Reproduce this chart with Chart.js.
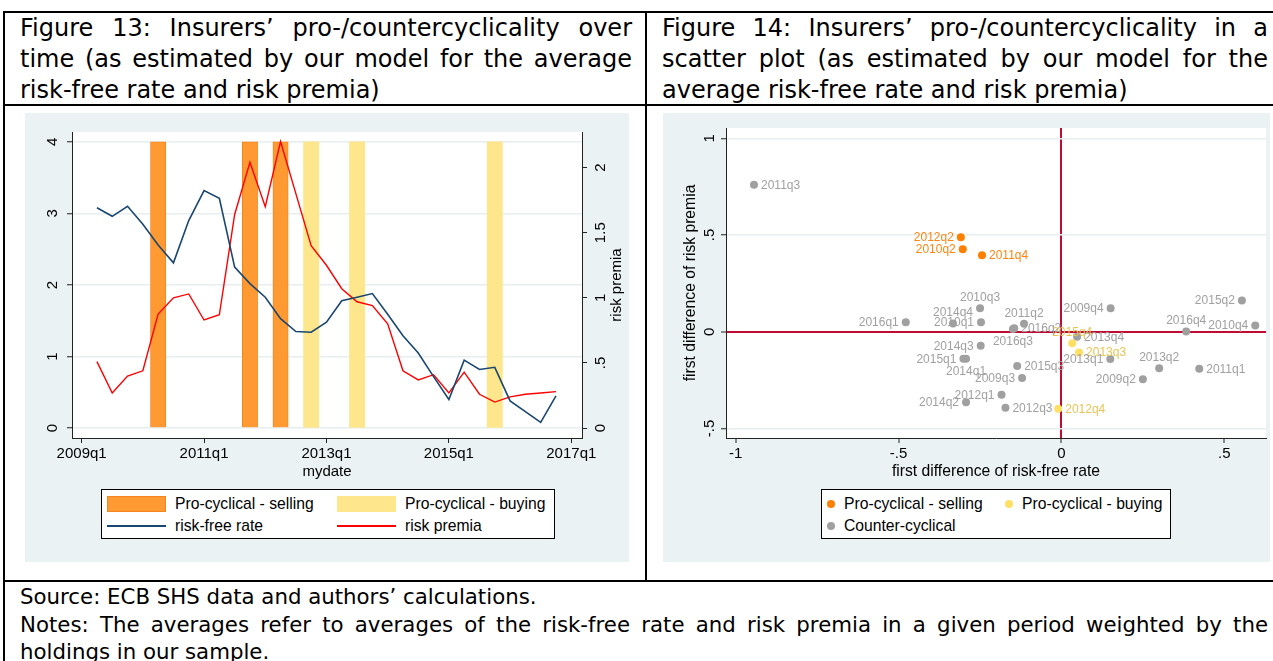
<!DOCTYPE html>
<html>
<head>
<meta charset="utf-8">
<script src="https://cdn.jsdelivr.net/npm/chart.js@4.4.1/dist/chart.umd.min.js"></script>
<style>
  body { margin: 0; width: 1273px; height: 661px; position: relative; overflow: hidden; background: #fff; }
  .hl { position: absolute; background: #000; height: 2px; }
  .vl { position: absolute; background: #000; width: 2px; }
  .cap { position: absolute; font-family: "DejaVu Sans", sans-serif; font-size: 24px; line-height: 31px; color: #000; }
  .cap div, .src div { text-align: justify; text-align-last: justify; white-space: nowrap; }
  .cap div.last, .src div.last { text-align: left; text-align-last: left; }
  .src { position: absolute; font-family: "DejaVu Sans", sans-serif; font-size: 21.3px; line-height: 27.5px; color: #000; }
  .panel { position: absolute; background: #eaf2f3; }
  .legend { position: absolute; border: 1px solid #000; background: #fff; }
  .lt { position: absolute; font: 15.7px "Liberation Sans", Arial, sans-serif; line-height: 18px; white-space: nowrap; color: #000; }
  .sw { position: absolute; box-sizing: border-box; }
  .dot { position: absolute; width: 8px; height: 8px; border-radius: 50%; }
</style>
</head>
<body>

<div class="hl" style="left:3px; top:11px; width:1270px;"></div>
<div class="hl" style="left:3px; top:104px; width:1270px;"></div>
<div class="hl" style="left:3px; top:580px; width:1270px;"></div>
<div class="vl" style="left:3px; top:11px; height:650px;"></div>
<div class="vl" style="left:645px; top:11px; height:571px;"></div>

<div class="cap" style="left:20px; top:13px; width:612px;">
  <div>Figure 13: Insurers’ pro-/countercyclicality over</div>
  <div>time (as estimated by our model for the average</div>
  <div class="last">risk-free rate and risk premia)</div>
</div>
<div class="cap" style="left:662px; top:13px; width:606px;">
  <div>Figure 14: Insurers’ pro-/countercyclicality in a</div>
  <div>scatter plot (as estimated by our model for the</div>
  <div class="last">average risk-free rate and risk premia)</div>
</div>

<div class="panel" style="left:25px; top:113px; width:604px; height:449px;">
  <canvas id="timeChart" width="604" height="449"></canvas>
</div>
<div class="panel" style="left:663px; top:113px; width:607px; height:449px;">
  <canvas id="scatterChart" width="607" height="449"></canvas>
</div>

<!-- legend, figure 13 -->
<div class="legend" style="left:101px; top:489px; width:452px; height:48px;"></div>
<div class="sw" style="left:107px; top:496px; width:59px; height:16px; background:#ff9a33; border:1px solid #f5861f;"></div>
<div class="lt" style="left:175px; top:495px;">Pro-cyclical - selling</div>
<div class="sw" style="left:337px; top:496px; width:59px; height:16px; background:#fee68c;"></div>
<div class="lt" style="left:405px; top:495px;">Pro-cyclical - buying</div>
<div class="sw" style="left:107px; top:525px; width:59px; height:2px; background:#1a476f;"></div>
<div class="lt" style="left:175px; top:517px;">risk-free rate</div>
<div class="sw" style="left:337px; top:525px; width:59px; height:2px; background:#ff0000;"></div>
<div class="lt" style="left:405px; top:517px;">risk premia</div>

<!-- legend, figure 14 -->
<div class="legend" style="left:821px; top:489px; width:348px; height:48px;"></div>
<div class="dot" style="left:827px; top:500px; background:#ff7f00;"></div>
<div class="lt" style="left:844px; top:495px;">Pro-cyclical - selling</div>
<div class="dot" style="left:1005px; top:500px; background:#ffe066;"></div>
<div class="lt" style="left:1022px; top:495px;">Pro-cyclical - buying</div>
<div class="dot" style="left:827px; top:522px; background:#a0a0a0;"></div>
<div class="lt" style="left:844px; top:517px;">Counter-cyclical</div>

<div class="src" style="left:20px; top:583px; width:1248px;">
  <div class="last">Source: ECB SHS data and authors’ calculations.</div>
  <div>Notes: The averages refer to averages of the risk-free rate and risk premia in a given period weighted by the</div>
  <div class="last">holdings in our sample.</div>
</div>

<script>
// quarters shown in both figures
const quarters = ['2009q2','2009q3','2009q4','2010q1','2010q2','2010q3','2010q4',
  '2011q1','2011q2','2011q3','2011q4','2012q1','2012q2','2012q3','2012q4',
  '2013q1','2013q2','2013q3','2013q4','2014q1','2014q2','2014q3','2014q4',
  '2015q1','2015q2','2015q3','2015q4','2016q1','2016q2','2016q3','2016q4'];

// figure 13: levels
const riskFree = [3.08, 2.96, 3.10, 2.85, 2.56, 2.31, 2.90, 3.32, 3.21, 2.25, 2.02,
  1.83, 1.53, 1.35, 1.34, 1.48, 1.78, 1.83, 1.88, 1.59, 1.29, 1.05, 0.72, 0.40,
  0.95, 0.82, 0.85, 0.38, 0.23, 0.08, 0.45];
const riskPremia = [0.51, 0.27, 0.40, 0.44, 0.875, 1.00, 1.03, 0.83, 0.87, 1.64, 2.04,
  1.70, 2.20, 1.80, 1.40, 1.25, 1.07, 0.97, 0.94, 0.80, 0.44, 0.37, 0.41, 0.27,
  0.43, 0.26, 0.20, 0.24, 0.26, 0.27, 0.28];

// pro-cyclical quarters
const sellingQ = ['2010q2', '2011q4', '2012q2'];
const buyingQ = ['2012q4', '2013q3', '2015q4'];
const bandTop = 4;

// figure 14: first differences
const dRiskFree = [0.250, -0.121, 0.151, -0.247, -0.303, -0.250, 0.595, 0.423, -0.115,
  -0.944, -0.244, -0.184, -0.309, -0.172, -0.010, 0.150, 0.300, 0.054, 0.048, -0.293,
  -0.293, -0.248, -0.333, -0.301, 0.554, -0.136, 0.033, -0.478, -0.145, -0.149, 0.383];
const dRiskPremia = [-0.245, -0.239, 0.121, 0.049, 0.426, 0.121, 0.033, -0.191, 0.041,
  0.760, 0.395, -0.326, 0.488, -0.393, -0.398, -0.141, -0.188, -0.107, -0.026, -0.140,
  -0.364, -0.072, 0.043, -0.140, 0.162, -0.177, -0.060, 0.049, 0.018, 0.014, 0.002];

// ticks
const timeTicks = ['2009q1', '2011q1', '2013q1', '2015q1', '2017q1'];
const rateTicks = [0, 1, 2, 3, 4];
const premiaTicks = [0, 0.5, 1, 1.5, 2];
const dxTicks = [-1, -0.5, 0, 0.5];
const dyTicks = [-0.5, 0, 0.5, 1];

// where each marker label sits (clock position)
const labelPos = {
  '2009q2': 9, '2009q3': 9, '2009q4': 9, '2010q1': 9, '2010q2': 9, '2010q3': 12,
  '2010q4': 9, '2011q1': 3, '2011q2': 12, '2011q3': 3, '2011q4': 3, '2012q1': 9,
  '2012q2': 9, '2012q3': 3, '2012q4': 3, '2013q1': 9, '2013q2': 12, '2013q3': 3,
  '2013q4': 3, '2014q1': 6, '2014q2': 9, '2014q3': 9, '2014q4': 12, '2015q1': 9,
  '2015q2': 9, '2015q3': 3, '2015q4': 12, '2016q1': 9, '2016q2': 3, '2016q3': 6,
  '2016q4': 12
};

const qIndex = s => (parseInt(s.slice(0, 4)) - 2009) * 4 + parseInt(s.slice(5)) - 1;
const qLabel = i => (2009 + Math.floor(i / 4)) + 'q' + (i % 4 + 1);
const stataNum = v => String(v).replace(/^(-?)0\./, '$1.');

Chart.defaults.font.family = '"Liberation Sans", Arial, sans-serif';
Chart.defaults.font.size = 15;
Chart.defaults.color = '#000';

const AXIS = '#222';
const GRID = '#e6eef0';
const REFLINE = '#c20b33';

// white plot region
const plotBg = {
  id: 'plotBg',
  beforeDraw(chart) {
    const a = chart.chartArea;
    chart.ctx.save();
    chart.ctx.fillStyle = '#fff';
    chart.ctx.fillRect(a.left, a.top, a.right - a.left, a.bottom - a.top);
    chart.ctx.restore();
  }
};

// right axis title, read bottom to top like stata
const rightTitle = {
  id: 'rightTitle',
  afterDraw(chart) {
    const s = chart.scales.y1;
    const ctx = chart.ctx;
    ctx.save();
    ctx.translate(s.left + 35, (s.top + s.bottom) / 2);
    ctx.rotate(-Math.PI / 2);
    ctx.font = '15px "Liberation Sans", Arial, sans-serif';
    ctx.fillStyle = '#000';
    ctx.textAlign = 'center';
    ctx.textBaseline = 'middle';
    ctx.fillText('risk premia', 0, 0);
    ctx.restore();
  }
};

const pointLabels = {
  id: 'pointLabels',
  afterDatasetsDraw(chart) {
    const ctx = chart.ctx;
    ctx.save();
    ctx.font = '12px "Liberation Sans", Arial, sans-serif';
    chart.data.datasets.forEach((ds, di) => {
      chart.getDatasetMeta(di).data.forEach((el, i) => {
        const q = ds.data[i].q;
        const pos = labelPos[q] || 3;
        let x = el.x, y = el.y;
        ctx.fillStyle = ds.labelColor;
        ctx.textBaseline = 'middle';
        if (pos === 3) { ctx.textAlign = 'left'; x += 7; }
        else if (pos === 9) { ctx.textAlign = 'right'; x -= 7; }
        else if (pos === 12) { ctx.textAlign = 'center'; y -= 11; }
        else { ctx.textAlign = 'center'; y += 12; }
        ctx.fillText(q, x, y + 0.5);
      });
    });
    ctx.restore();
  }
};

const tickFont = { family: '"Liberation Sans", Arial, sans-serif', size: 15 };
const titleFont = { family: '"Liberation Sans", Arial, sans-serif', size: 15.7 };

// Figure 13
const band = list => quarters.map(q => ({ x: qIndex(q), y: list.includes(q) ? bandTop : null }));

new Chart(document.getElementById('timeChart'), {
  type: 'line',
  data: {
    datasets: [
      {
        label: 'risk-free rate',
        data: quarters.map((q, i) => ({ x: qIndex(q), y: riskFree[i] })),
        borderColor: '#1a476f', borderWidth: 1.6, pointRadius: 0, tension: 0,
        yAxisID: 'y', order: 1
      },
      {
        label: 'risk premia',
        data: quarters.map((q, i) => ({ x: qIndex(q), y: riskPremia[i] })),
        borderColor: '#ff0000', borderWidth: 1.4, pointRadius: 0, tension: 0,
        yAxisID: 'y1', order: 1
      },
      {
        type: 'bar', label: 'Pro-cyclical - selling', data: band(sellingQ),
        backgroundColor: '#ff9a33', borderColor: '#f5861f', borderWidth: 1,
        grouped: false, barPercentage: 1, categoryPercentage: 1, yAxisID: 'y', order: 2
      },
      {
        type: 'bar', label: 'Pro-cyclical - buying', data: band(buyingQ),
        backgroundColor: '#fee68c', borderWidth: 0,
        grouped: false, barPercentage: 1, categoryPercentage: 1, yAxisID: 'y', order: 2
      }
    ]
  },
  options: {
    responsive: false,
    animation: false,
    layout: { padding: { top: 15, bottom: 80, left: 0, right: 0 } },
    plugins: { legend: { display: false }, tooltip: { enabled: false } },
    scales: {
      x: {
        type: 'linear', min: -0.63, max: 32.7, offset: false,
        afterBuildTicks: s => { s.ticks = timeTicks.map(t => ({ value: qIndex(t) })); },
        afterFit: s => { s.height = 44; },
        ticks: { callback: v => qLabel(v), font: tickFont, color: '#000', padding: 2, maxRotation: 0, autoSkip: false },
        grid: { drawOnChartArea: false, tickLength: 5, tickColor: AXIS, tickWidth: 1, offset: false },
        border: { color: AXIS, width: 1 },
        title: { display: true, text: 'mydate', font: tickFont, color: '#000', padding: { top: 0, bottom: 1 } }
      },
      y: {
        position: 'left', min: -0.138, max: 4.138,
        afterBuildTicks: s => { s.ticks = rateTicks.map(v => ({ value: v })); },
        afterFit: s => { s.width = 47; },
        ticks: { minRotation: 90, maxRotation: 90, crossAlign: 'center', padding: 10, font: tickFont, color: '#000', callback: v => stataNum(v) },
        grid: { color: GRID, lineWidth: 1.5, tickLength: 5, tickColor: AXIS, tickWidth: 1 },
        border: { color: AXIS, width: 1 }
      },
      y1: {
        position: 'right', min: -0.0758, max: 2.273,
        afterBuildTicks: s => { s.ticks = premiaTicks.map(v => ({ value: v })); },
        afterFit: s => { s.width = 47; },
        ticks: { minRotation: 90, maxRotation: 90, crossAlign: 'center', padding: 3, font: tickFont, color: '#000', callback: v => stataNum(v) },
        grid: { drawOnChartArea: false, tickLength: 5, tickColor: AXIS, tickWidth: 1 },
        border: { color: AXIS, width: 1 }
      }
    }
  },
  plugins: [plotBg, rightTitle]
});

// Figure 14
const kind = q => sellingQ.includes(q) ? 'sell' : buyingQ.includes(q) ? 'buy' : 'counter';
const pts = k => quarters
  .map((q, i) => ({ x: dRiskFree[i], y: dRiskPremia[i], q }))
  .filter(p => kind(p.q) === k);

new Chart(document.getElementById('scatterChart'), {
  type: 'scatter',
  data: {
    datasets: [
      { label: 'Pro-cyclical - selling', data: pts('sell'), backgroundColor: '#ff7f00', labelColor: '#ff8410', pointRadius: 4, borderWidth: 0 },
      { label: 'Pro-cyclical - buying', data: pts('buy'), backgroundColor: '#ffe066', labelColor: '#e8c455', pointRadius: 4, borderWidth: 0 },
      { label: 'Counter-cyclical', data: pts('counter'), backgroundColor: '#a0a0a0', labelColor: '#a0a0a0', pointRadius: 4, borderWidth: 0 }
    ]
  },
  options: {
    responsive: false,
    animation: false,
    layout: { padding: { top: 15, bottom: 80, left: 0, right: 4 } },
    plugins: { legend: { display: false }, tooltip: { enabled: false } },
    scales: {
      x: {
        type: 'linear', min: -1.03, max: 0.628,
        afterBuildTicks: s => { s.ticks = dxTicks.map(v => ({ value: v })); },
        afterFit: s => { s.height = 44; },
        ticks: { callback: v => stataNum(v), font: tickFont, color: '#000', padding: 2, maxRotation: 0, autoSkip: false },
        grid: {
          color: c => (c.tick && c.tick.value === 0) ? REFLINE : 'rgba(0,0,0,0)',
          lineWidth: 2, tickLength: 5, tickColor: AXIS, tickWidth: 1
        },
        border: { color: AXIS, width: 1 },
        title: { display: true, text: 'first difference of risk-free rate', font: titleFont, color: '#000', padding: { top: 0, bottom: 1 } }
      },
      y: {
        type: 'linear', min: -0.549, max: 1.053,
        afterBuildTicks: s => { s.ticks = dyTicks.map(v => ({ value: v })); },
        afterFit: s => { s.width = 63; },
        ticks: { minRotation: 90, maxRotation: 90, crossAlign: 'center', padding: 2, font: tickFont, color: '#000', callback: v => stataNum(v) },
        grid: {
          color: c => (c.tick && c.tick.value === 0) ? REFLINE : GRID,
          lineWidth: c => (c.tick && c.tick.value === 0) ? 2 : 1.5,
          tickLength: 5, tickColor: AXIS, tickWidth: 1
        },
        border: { color: AXIS, width: 1 },
        title: { display: true, text: 'first difference of risk premia', font: titleFont, color: '#000', padding: { top: 18, bottom: 0 } }
      }
    }
  },
  plugins: [plotBg, pointLabels]
});
</script>
</body>
</html>
